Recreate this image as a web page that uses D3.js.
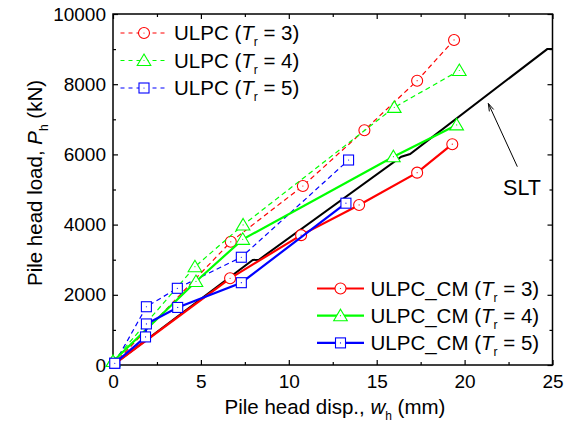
<!DOCTYPE html>
<html>
<head>
<meta charset="utf-8">
<script src="https://cdn.jsdelivr.net/npm/d3@7"></script>
<style>
  body { margin: 0; background: #fff; }
  text { font-family: "Liberation Sans", Arial, sans-serif; fill: #000; }
</style>
</head>
<body>
<div id="canvas"></div>
<script>
// data: [disp (mm), load (kN)]
const slt = [[0, 0], [7.95, 2990], [8.3, 3000], [16.4, 5935], [16.9, 6010], [24.7, 9000], [25, 9000]];

const ulpc3 = [[0, 0], [6.7, 3510], [10.8, 5100], [14.3, 6690], [17.3, 8100], [19.4, 9260]];
const ulpc4 = [[0, 100], [4.66, 2800], [7.4, 3990], [16.0, 7340], [19.7, 8390]];
const ulpc5 = [[0.1, 50], [1.9, 1660], [3.66, 2185], [7.3, 3070], [13.4, 5840]];

const ulpcCm3 = [[0, 0], [6.66, 2470], [10.7, 3700], [14.0, 4560], [17.3, 5480], [19.3, 6290]];
const ulpcCm4 = [[0, 100], [4.72, 2380], [7.38, 3580], [15.95, 5935], [19.55, 6840]];
const ulpcCm5 = [[0.1, 50], [1.85, 800], [1.9, 1170], [3.68, 1640], [7.3, 2345], [13.25, 4610]];

const xTicks = [0, 5, 10, 15, 20, 25];
const xMinor = [2.5, 7.5, 12.5, 17.5, 22.5];
const yTicks = [0, 2000, 4000, 6000, 8000, 10000];
const yMinor = [1000, 3000, 5000, 7000, 9000];

const width = 571, height = 423;
const margin = { top: 14, left: 113, right: 18.5, bottom: 58 };
const iwidth = width - margin.left - margin.right;
const iheight = height - margin.top - margin.bottom;

const svg = d3.select("#canvas").append("svg")
    .attr("width", width)
    .attr("height", height);

const g = svg.append("g").attr("transform", `translate(${margin.left},${margin.top})`);

const x = d3.scaleLinear().domain([0, 25]).range([0, iwidth]);
const y = d3.scaleLinear().domain([0, 10000]).range([iheight, 0]);

// axes, ticks inside on all four sides
function styleAxis(sel) {
    sel.select(".domain").remove();
    sel.selectAll("line").attr("stroke", "#000").attr("stroke-width", 1.2);
    sel.selectAll("text").style("font-size", "19px").style("font-family", "Liberation Sans, Arial, sans-serif");
}

g.append("g").attr("transform", `translate(0,${iheight})`)
    .call(d3.axisBottom(x).tickValues(xTicks).tickSizeInner(-5).tickSizeOuter(0).tickPadding(10).tickFormat(d3.format("d")))
    .call(styleAxis);
g.append("g").attr("transform", `translate(0,${iheight})`)
    .call(d3.axisBottom(x).tickValues(xMinor).tickSizeInner(-3).tickSizeOuter(0).tickFormat(""))
    .call(styleAxis);
g.append("g")
    .call(d3.axisTop(x).tickValues(xTicks).tickSizeInner(-5).tickSizeOuter(0).tickFormat(""))
    .call(styleAxis);
g.append("g")
    .call(d3.axisTop(x).tickValues(xMinor).tickSizeInner(-3).tickSizeOuter(0).tickFormat(""))
    .call(styleAxis);

g.append("g")
    .call(d3.axisLeft(y).tickValues(yTicks).tickSizeInner(-5).tickSizeOuter(0).tickPadding(7).tickFormat(d3.format("d")))
    .call(styleAxis);
g.append("g")
    .call(d3.axisLeft(y).tickValues(yMinor).tickSizeInner(-3).tickSizeOuter(0).tickFormat(""))
    .call(styleAxis);
g.append("g").attr("transform", `translate(${iwidth},0)`)
    .call(d3.axisRight(y).tickValues(yTicks).tickSizeInner(-5).tickSizeOuter(0).tickFormat(""))
    .call(styleAxis);
g.append("g").attr("transform", `translate(${iwidth},0)`)
    .call(d3.axisRight(y).tickValues(yMinor).tickSizeInner(-3).tickSizeOuter(0).tickFormat(""))
    .call(styleAxis);

g.append("rect")
    .attr("width", iwidth).attr("height", iheight)
    .attr("fill", "none").attr("stroke", "#000").attr("stroke-width", 1.5);

const line = d3.line().x(d => x(d[0])).y(d => y(d[1]));

// markers
function drawMarker(sel, shape, color) {
    if (shape === "circle") {
        sel.append("circle").attr("r", 5.5);
    } else if (shape === "triangle") {
        sel.append("path").attr("d", "M0,-6.5L6.8,5L-6.8,5Z");
    } else {
        sel.append("rect").attr("x", -5).attr("y", -5).attr("width", 10).attr("height", 10);
    }
    sel.selectAll("circle, path, rect")
        .attr("fill", "#fff").attr("stroke", color).attr("stroke-width", 1.1);
    sel.append("circle").attr("r", 0.6).attr("fill", color);
}

function drawSeries(data, color, dashed, shape) {
    g.append("path")
        .datum(data)
        .attr("d", line)
        .attr("fill", "none")
        .attr("stroke", color)
        .attr("stroke-width", dashed ? 1.2 : 2.2)
        .attr("stroke-dasharray", dashed ? "5,3.5" : null);
    g.selectAll(null)
        .data(data.filter(d => d[0] > 0.05 || d[1] > 0))
        .enter().append("g")
        .attr("transform", d => `translate(${x(d[0])},${y(d[1])})`)
        .each(function () { drawMarker(d3.select(this), shape, color); });
}

// SLT
g.append("path")
    .datum(slt)
    .attr("d", line)
    .attr("fill", "none")
    .attr("stroke", "#000")
    .attr("stroke-width", 2);

drawSeries(ulpc3, "#ff0000", true, "circle");
drawSeries(ulpc4, "#00ff00", true, "triangle");
drawSeries(ulpc5, "#0000ff", true, "square");
drawSeries(ulpcCm3, "#ff0000", false, "circle");
drawSeries(ulpcCm4, "#00ff00", false, "triangle");
drawSeries(ulpcCm5, "#0000ff", false, "square");

// SLT annotation
const arrowTip = [21.35, 7450];
const arrowTail = [23.0, 5650];
g.append("line")
    .attr("x1", x(arrowTail[0])).attr("y1", y(arrowTail[1]))
    .attr("x2", x(arrowTip[0])).attr("y2", y(arrowTip[1]))
    .attr("stroke", "#000").attr("stroke-width", 1);
const ang = Math.atan2(y(arrowTail[1]) - y(arrowTip[1]), x(arrowTail[0]) - x(arrowTip[0]));
const ah = 8, aw = 0.3;
g.append("path")
    .attr("d", `M${x(arrowTip[0]) + ah * Math.cos(ang - aw)},${y(arrowTip[1]) + ah * Math.sin(ang - aw)}` +
        `L${x(arrowTip[0])},${y(arrowTip[1])}` +
        `L${x(arrowTip[0]) + ah * Math.cos(ang + aw)},${y(arrowTip[1]) + ah * Math.sin(ang + aw)}`)
    .attr("fill", "none").attr("stroke", "#000").attr("stroke-width", 1);
svg.append("text")
    .attr("x", 522).attr("y", 195)
    .attr("text-anchor", "middle")
    .style("font-size", "21.5px")
    .text("SLT");

// legend label with italic T and subscript r
function labelText(sel, prefix, tr) {
    sel.append("tspan").text(prefix + " (");
    sel.append("tspan").style("font-style", "italic").text("T");
    sel.append("tspan").attr("dy", 6).style("font-size", "12px").text("r");
    sel.append("tspan").attr("dy", -6).text(" = " + tr + ")");
}

const legendTop = [
    { name: "ULPC", tr: 3, color: "#ff0000", shape: "circle" },
    { name: "ULPC", tr: 4, color: "#00ff00", shape: "triangle" },
    { name: "ULPC", tr: 5, color: "#0000ff", shape: "square" }
];
const legendBottom = [
    { name: "ULPC_CM", tr: 3, color: "#ff0000", shape: "circle" },
    { name: "ULPC_CM", tr: 4, color: "#00ff00", shape: "triangle" },
    { name: "ULPC_CM", tr: 5, color: "#0000ff", shape: "square" }
];

function drawLegend(items, x0, y0, step, dashed) {
    items.forEach((it, i) => {
        const ly = y0 + i * step;
        svg.append("line")
            .attr("x1", x0).attr("x2", x0 + 47)
            .attr("y1", ly).attr("y2", ly)
            .attr("stroke", it.color)
            .attr("stroke-width", dashed ? 1.2 : 2.2)
            .attr("stroke-dasharray", dashed ? "4,4" : null);
        const m = svg.append("g").attr("transform", `translate(${x0 + 23.5},${ly})`);
        drawMarker(m, it.shape, it.color);
        svg.append("text")
            .attr("x", x0 + 53.5).attr("y", ly + 7.3)
            .style("font-size", "20.5px")
            .call(labelText, it.name, it.tr);
    });
}

drawLegend(legendTop, 120.5, 33, 27.5, true);
drawLegend(legendBottom, 317, 288.5, 27.2, false);

// axis titles
const xl = svg.append("text")
    .attr("x", 335).attr("y", 414)
    .attr("text-anchor", "middle")
    .style("font-size", "20.5px");
xl.append("tspan").text("Pile head disp., ");
xl.append("tspan").style("font-style", "italic").text("w");
xl.append("tspan").attr("dy", 6).style("font-size", "12px").text("h");
xl.append("tspan").attr("dy", -6).text(" (mm)");

const yl = svg.append("text")
    .attr("transform", "translate(42,183) rotate(-90)")
    .attr("text-anchor", "middle")
    .style("font-size", "20.5px");
yl.append("tspan").text("Pile head load, ");
yl.append("tspan").style("font-style", "italic").text("P");
yl.append("tspan").attr("dy", 6).style("font-size", "12px").text("h");
yl.append("tspan").attr("dy", -6).text(" (kN)");
</script>
</body>
</html>
